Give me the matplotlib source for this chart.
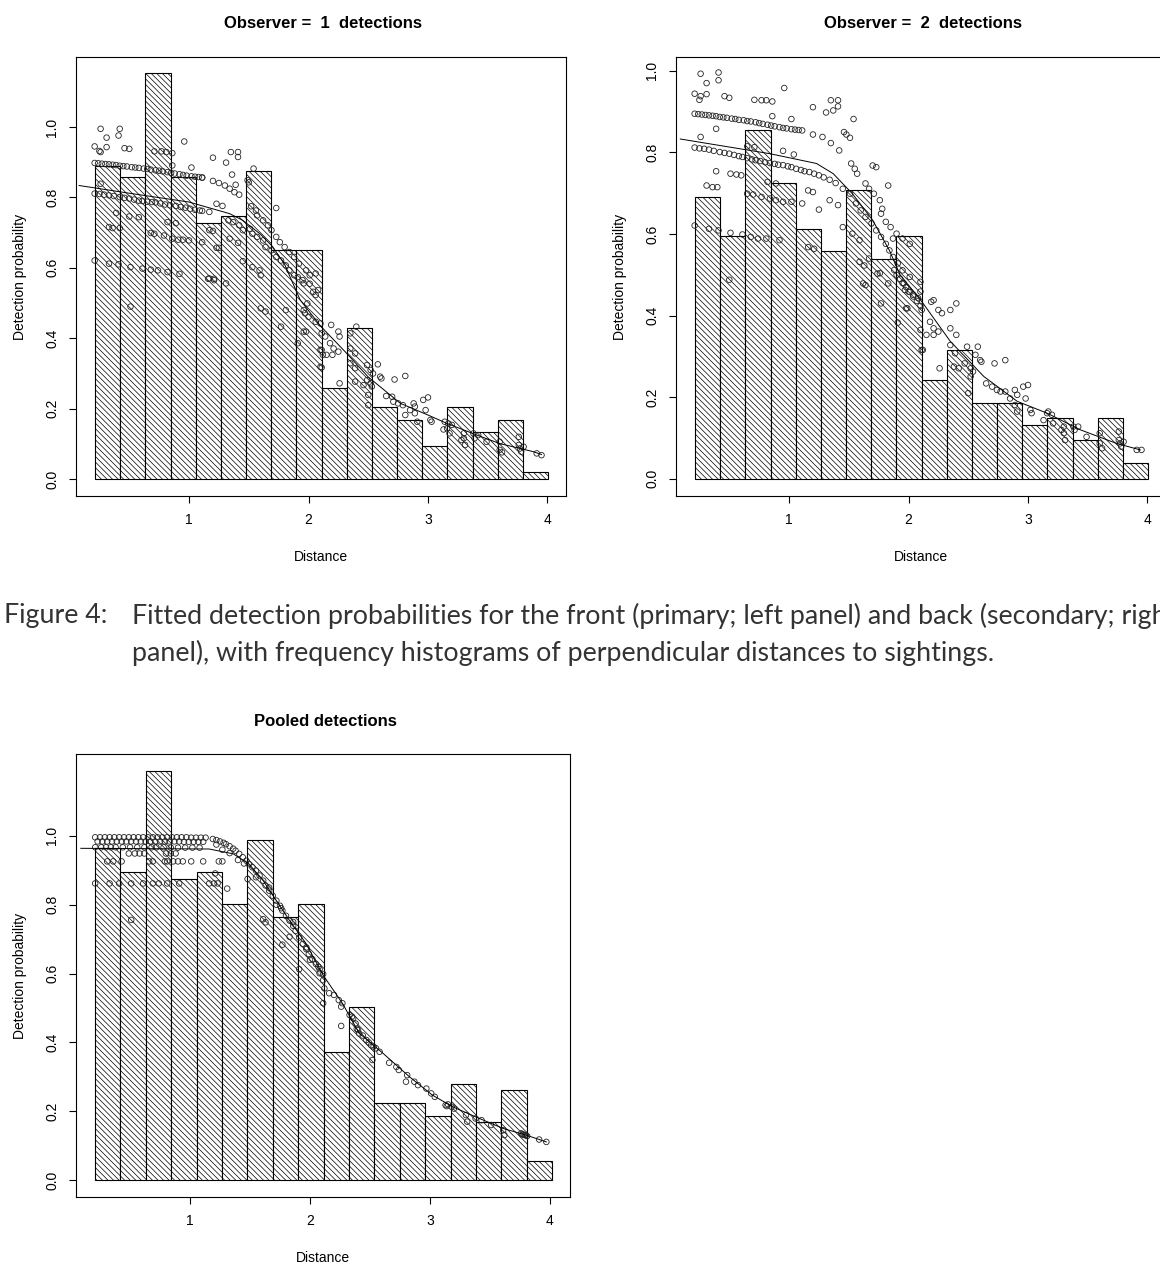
import matplotlib
matplotlib.use("Agg")
import matplotlib.pyplot as plt

plt.rcParams['font.family'] = ['Liberation Sans', 'DejaVu Sans']
plt.rcParams['hatch.linewidth'] = 0.5
plt.rcParams['hatch.color'] = 'black'

# histogram heights (18 bins)
obs1_hist = [0.889, 0.858, 1.154, 0.858, 0.727, 0.746, 0.874, 0.652, 0.652,
             0.260, 0.428, 0.205, 0.167, 0.095, 0.205, 0.133, 0.167, 0.019]
obs2_hist = [0.690, 0.595, 0.856, 0.726, 0.613, 0.559, 0.707, 0.540, 0.596,
             0.242, 0.315, 0.186, 0.186, 0.132, 0.149, 0.095, 0.149, 0.038]
pooled_hist = [0.965, 0.895, 1.190, 0.875, 0.894, 0.801, 0.988, 0.764, 0.801,
               0.372, 0.502, 0.224, 0.224, 0.186, 0.278, 0.168, 0.261, 0.055]
hist_start = [0.213, 0.213, 0.208]
hist_width = [0.2107, 0.2107, 0.2117]

# fitted detection function curves
line1_d = [0.08, 0.50, 1.00, 1.34, 1.45, 1.60, 1.70, 1.80, 1.93, 2.10, 2.32, 2.50, 2.77, 3.00, 3.16, 3.41, 3.60, 3.88, 3.95]
line1_p = [0.834, 0.812, 0.787, 0.754, 0.735, 0.695, 0.660, 0.610, 0.509, 0.435, 0.357, 0.290, 0.215, 0.182, 0.158, 0.125, 0.101, 0.078, 0.070]
line2_d = [0.09, 0.84, 1.23, 1.37, 1.53, 1.70, 1.84, 1.93, 2.11, 2.35, 2.63, 2.91, 3.16, 3.44, 3.74, 3.94]
line2_p = [0.833, 0.797, 0.773, 0.748, 0.699, 0.634, 0.560, 0.500, 0.435, 0.337, 0.251, 0.190, 0.161, 0.120, 0.087, 0.071]
line3_d = [0.09, 1.16, 1.36, 1.49, 1.61, 1.72, 1.83, 1.97, 2.11, 2.27, 2.41, 2.61, 2.83, 3.02, 3.19, 3.38, 3.61, 3.80, 3.97]
line3_p = [0.964, 0.962, 0.948, 0.919, 0.870, 0.812, 0.754, 0.686, 0.595, 0.514, 0.427, 0.368, 0.300, 0.247, 0.213, 0.184, 0.150, 0.131, 0.111]

# fitted probabilities, observer 1
obs1_d = [
    # upper band
    0.21, 0.24, 0.27, 0.30, 0.33, 0.36, 0.39, 0.42, 0.45, 0.48, 0.52, 0.55, 0.58, 0.62, 0.65,
    0.68, 0.72, 0.75, 0.78, 0.82, 0.85, 0.88, 0.92, 0.95, 0.98, 1.02, 1.05, 1.08, 1.11,
    1.20, 1.25, 1.30, 1.34, 1.38, 1.42, 1.49, 1.50, 1.52, 1.56, 1.57, 1.62, 1.66, 1.69, 1.73,
    1.73, 1.76, 1.80, 1.84, 1.88, 1.92, 1.98, 2.01, 2.06,
    # lower band
    0.21, 0.25, 0.29, 0.33, 0.37, 0.42, 0.46, 0.50, 0.54, 0.58, 0.61, 0.65, 0.69, 0.72, 0.76,
    0.80, 0.84, 0.89, 0.93, 0.97, 1.01, 1.05, 1.09, 1.11, 1.17,
    1.23, 1.28, 1.33, 1.37, 1.42, 1.45, 1.51, 1.53, 1.57, 1.62, 1.64, 1.69, 1.73, 1.77, 1.81,
    1.84, 1.88, 1.91, 1.95, 2.01,
    # scattered high
    0.26, 0.42, 0.31, 0.41, 0.21, 0.25, 0.31, 0.26, 0.46, 0.50, 0.71, 0.77, 0.81, 0.86, 0.96,
    0.86, 1.02, 1.20, 1.35, 1.41, 1.41, 1.31, 1.36, 1.39, 1.54, 1.11,
    # middle
    0.26, 0.39, 0.50, 0.58, 0.33, 0.36, 0.42, 0.68, 0.71, 0.79, 0.86, 0.91, 0.95, 0.82, 0.89,
    1.00, 1.11, 1.17, 1.20, 1.23, 1.25, 1.34, 1.41,
    0.21, 0.33, 0.41, 0.51, 0.61, 0.68, 0.74, 0.82, 0.92, 1.16, 1.21, 1.45, 1.53, 1.59, 1.60,
    0.51, 1.17, 1.21, 1.31, 1.60, 1.64, 1.77, 1.91, 1.98, 1.81, 2.10, 2.10, 2.12,
    # tail
    1.96, 2.04, 2.06, 2.08, 1.99, 1.96, 1.97, 2.00, 2.06, 2.10, 1.96, 2.11, 2.14, 2.19, 2.25,
    2.26, 2.18, 2.21, 2.25, 2.15, 2.20, 2.11, 2.11, 2.26, 2.35, 2.40, 2.35, 2.39, 2.35, 2.39,
    2.39, 2.46, 2.49, 2.52, 2.53, 2.49, 2.52, 2.58, 2.54, 2.60, 2.61, 2.50, 2.50, 2.72, 2.81,
    2.65, 2.70, 2.71, 2.75, 2.79, 2.88, 2.89, 2.85, 2.81, 2.89, 2.91, 2.96, 3.00, 2.98, 3.02,
    3.03, 3.14, 3.17, 3.20, 3.16, 3.13, 3.18, 3.30, 3.30, 3.31, 3.38, 3.39, 3.42, 3.28, 3.49,
    3.60, 3.60, 3.62, 3.76, 3.76, 3.77, 3.78, 3.80, 3.91, 3.95]
obs1_p = [
    0.898, 0.897, 0.896, 0.895, 0.894, 0.893, 0.892, 0.890, 0.889, 0.888, 0.886, 0.885, 0.884, 0.882, 0.881,
    0.879, 0.877, 0.876, 0.874, 0.872, 0.870, 0.868, 0.866, 0.864, 0.862, 0.860, 0.859, 0.858, 0.857,
    0.847, 0.841, 0.834, 0.825, 0.815, 0.808, 0.849, 0.843, 0.775, 0.763, 0.749, 0.735, 0.721, 0.707, 0.688,
    0.770, 0.673, 0.659, 0.645, 0.631, 0.612, 0.593, 0.579, 0.584,
    0.811, 0.810, 0.808, 0.806, 0.804, 0.801, 0.799, 0.797, 0.794, 0.791, 0.790, 0.788, 0.787, 0.786, 0.783,
    0.780, 0.778, 0.776, 0.773, 0.771, 0.768, 0.765, 0.763, 0.762, 0.759,
    0.782, 0.776, 0.735, 0.730, 0.721, 0.707, 0.711, 0.697, 0.688, 0.678, 0.659, 0.650, 0.631, 0.621, 0.607,
    0.593, 0.579, 0.574, 0.565, 0.555,
    0.995, 0.995, 0.970, 0.976, 0.945, 0.932, 0.943, 0.929, 0.940, 0.938, 0.931, 0.931, 0.929, 0.926, 0.959,
    0.891, 0.885, 0.913, 0.929, 0.929, 0.915, 0.899, 0.865, 0.836, 0.882, 0.856,
    0.839, 0.756, 0.746, 0.744, 0.716, 0.713, 0.713, 0.699, 0.697, 0.692, 0.683, 0.680, 0.680, 0.730, 0.727,
    0.678, 0.673, 0.707, 0.705, 0.657, 0.657, 0.683, 0.671,
    0.621, 0.612, 0.610, 0.602, 0.598, 0.595, 0.593, 0.588, 0.583, 0.569, 0.569, 0.619, 0.602, 0.593, 0.579,
    0.490, 0.570, 0.565, 0.556, 0.485, 0.476, 0.433, 0.386, 0.419, 0.480, 0.367, 0.319, 0.353,
    0.556, 0.532, 0.523, 0.537, 0.499, 0.480, 0.471, 0.461, 0.447, 0.442, 0.419, 0.414, 0.405, 0.438, 0.419,
    0.405, 0.386, 0.371, 0.362, 0.353, 0.353, 0.367, 0.317, 0.272, 0.414, 0.433, 0.371, 0.357, 0.329, 0.315,
    0.277, 0.267, 0.281, 0.272, 0.263, 0.324, 0.310, 0.326, 0.300, 0.291, 0.286, 0.239, 0.210, 0.283, 0.293,
    0.236, 0.234, 0.220, 0.215, 0.210, 0.215, 0.206, 0.196, 0.182, 0.187, 0.163, 0.225, 0.232, 0.196, 0.168,
    0.163, 0.163, 0.158, 0.154, 0.144, 0.141, 0.130, 0.130, 0.116, 0.097, 0.130, 0.116, 0.125, 0.111, 0.106,
    0.106, 0.083, 0.076, 0.120, 0.097, 0.087, 0.078, 0.092, 0.073, 0.068]

# fitted probabilities, observer 2
obs2_d = [
    0.26, 0.41, 0.31, 0.41, 0.21, 0.25, 0.31, 0.26, 0.46, 0.50, 0.71, 0.77, 0.81, 0.86, 0.96,
    1.20, 1.35, 1.41, 1.41, 1.31, 1.37, 1.54, 0.86, 1.02, 0.39, 0.26,
    # upper band
    0.21, 0.24, 0.27, 0.30, 0.33, 0.36, 0.39, 0.42, 0.45, 0.48, 0.52, 0.55, 0.58, 0.62, 0.65,
    0.68, 0.72, 0.75, 0.78, 0.82, 0.85, 0.88, 0.92, 0.95, 0.98, 1.02, 1.05, 1.08, 1.11,
    1.20, 1.28, 1.35, 1.42, 1.46, 1.48, 1.51, 1.52, 1.55, 1.57, 1.70, 1.73, 1.64, 1.67, 1.71,
    1.76, 1.78, 1.83, 1.77, 1.81, 1.85, 1.90, 1.87, 1.95, 2.01,
    # lower band
    0.21, 0.25, 0.29, 0.33, 0.37, 0.42, 0.46, 0.50, 0.54, 0.58, 0.61, 0.65, 0.69, 0.72, 0.76,
    0.80, 0.84, 0.88, 0.91, 0.95, 0.99, 1.02, 1.06, 1.10, 1.13, 1.17, 1.21, 1.25, 1.29, 1.34,
    1.39, 1.45, 1.51, 1.56, 1.60, 1.64, 1.69, 1.73, 1.77, 1.81, 1.84, 1.87, 1.91, 1.95, 2.01,
    # middle
    0.39, 0.51, 0.56, 0.60, 0.31, 0.36, 0.40, 0.65, 0.71, 0.65, 0.70, 0.77, 0.84, 0.89, 0.95,
    1.02, 0.82, 0.89, 0.95, 1.04, 1.11, 1.16, 1.20, 1.25, 1.34, 1.41,
    0.21, 0.33, 0.41, 0.51, 0.61, 0.68, 0.74, 0.81, 0.92, 1.16, 1.21, 1.45, 1.53, 1.59, 0.50,
    1.59, 1.63, 1.67, 1.74,
    1.76, 1.83, 1.77, 1.91, 1.98, 2.12, 2.10, 1.62, 1.64,
    1.88, 1.90, 1.93, 1.95, 1.98, 2.01, 2.04, 2.07, 2.10,
    # tail
    1.96, 1.97, 2.00, 2.04, 2.08, 2.10, 2.10, 1.99, 2.11, 2.19, 2.21, 2.25, 2.28, 2.35, 2.40,
    2.18, 2.21, 2.25, 2.15, 2.21, 2.11, 2.26, 2.35, 2.40, 2.35, 2.39, 2.38, 2.42, 2.47, 2.52,
    2.54, 2.49, 2.56, 2.58, 2.60, 2.61, 2.52, 2.50, 2.72, 2.81, 2.65, 2.70, 2.74, 2.77, 2.81,
    2.89, 2.91, 2.85, 2.89, 2.91, 2.96, 3.00, 2.98, 3.02, 3.03, 3.13, 3.17, 3.20, 3.16, 3.21,
    3.30, 3.30, 3.31, 3.38, 3.39, 3.42, 3.28, 3.49, 3.60, 3.60, 3.62, 3.76, 3.76, 3.77, 3.78,
    3.80, 3.91, 3.95]
obs2_p = [
    0.993, 0.996, 0.970, 0.977, 0.944, 0.929, 0.943, 0.938, 0.938, 0.934, 0.929, 0.928, 0.928, 0.925, 0.958,
    0.911, 0.928, 0.928, 0.913, 0.898, 0.903, 0.882, 0.889, 0.882, 0.858, 0.838,
    0.895, 0.894, 0.893, 0.892, 0.891, 0.890, 0.889, 0.887, 0.886, 0.885, 0.883, 0.882, 0.880, 0.879, 0.877,
    0.876, 0.874, 0.872, 0.870, 0.868, 0.866, 0.864, 0.862, 0.860, 0.859, 0.857, 0.856, 0.855, 0.854,
    0.844, 0.838, 0.823, 0.805, 0.850, 0.844, 0.836, 0.773, 0.760, 0.748, 0.768, 0.764, 0.724, 0.711, 0.699,
    0.683, 0.662, 0.719, 0.650, 0.630, 0.617, 0.601, 0.589, 0.589, 0.576,
    0.812, 0.810, 0.809, 0.807, 0.804, 0.801, 0.799, 0.797, 0.794, 0.791, 0.789, 0.786, 0.783, 0.781, 0.779,
    0.776, 0.774, 0.772, 0.770, 0.769, 0.766, 0.764, 0.760, 0.757, 0.754, 0.752, 0.748, 0.744, 0.739, 0.733,
    0.725, 0.711, 0.699, 0.675, 0.658, 0.642, 0.626, 0.609, 0.593, 0.576, 0.560, 0.544, 0.528, 0.511, 0.495,
    0.754, 0.748, 0.746, 0.744, 0.719, 0.715, 0.715, 0.815, 0.813, 0.699, 0.697, 0.691, 0.687, 0.683, 0.679,
    0.679, 0.728, 0.724, 0.804, 0.795, 0.675, 0.707, 0.703, 0.660, 0.683, 0.671,
    0.621, 0.613, 0.609, 0.603, 0.599, 0.593, 0.589, 0.589, 0.585, 0.568, 0.564, 0.617, 0.601, 0.585, 0.488,
    0.532, 0.523, 0.540, 0.503,
    0.504, 0.479, 0.430, 0.383, 0.418, 0.316, 0.365, 0.479, 0.475,
    0.512, 0.500, 0.490, 0.480, 0.470, 0.458, 0.447, 0.436, 0.424,
    0.479, 0.463, 0.459, 0.451, 0.443, 0.483, 0.459, 0.418, 0.414, 0.434, 0.438, 0.414, 0.406, 0.414, 0.430,
    0.385, 0.369, 0.361, 0.353, 0.353, 0.316, 0.271, 0.369, 0.353, 0.328, 0.308, 0.275, 0.271, 0.283, 0.271,
    0.263, 0.324, 0.304, 0.324, 0.291, 0.287, 0.251, 0.210, 0.283, 0.291, 0.234, 0.226, 0.218, 0.214, 0.214,
    0.218, 0.206, 0.197, 0.181, 0.165, 0.226, 0.230, 0.197, 0.169, 0.161, 0.144, 0.165, 0.157, 0.161, 0.136,
    0.128, 0.112, 0.095, 0.128, 0.120, 0.128, 0.120, 0.103, 0.112, 0.087, 0.075, 0.116, 0.095, 0.087, 0.079,
    0.091, 0.071, 0.071]

# fitted probabilities, pooled
pooled_d = [
    0.21, 0.25, 0.29, 0.33, 0.37, 0.41, 0.45, 0.49, 0.53, 0.57, 0.61, 0.65, 0.69, 0.73, 0.77,
    0.81, 0.85, 0.89, 0.93, 0.97, 1.01, 1.05, 1.09, 1.13,
    0.23, 0.27, 0.31, 0.35, 0.39, 0.43, 0.47, 0.51, 0.55, 0.59, 0.63, 0.67, 0.71, 0.75, 0.79,
    0.83, 0.87, 0.91, 0.95, 0.99, 1.03, 1.07, 1.11,
    0.21, 0.26, 0.30, 0.34, 0.38, 0.44, 0.50, 0.56, 0.62, 0.68, 0.72, 0.78, 0.84, 0.90, 0.96,
    1.02, 1.08,
    0.49, 0.54, 0.58, 0.62, 0.80, 0.84, 0.88,
    0.31, 0.36, 0.43, 0.66, 0.69, 0.79, 0.81, 0.86, 0.90, 0.94, 1.01, 1.11, 1.24, 1.27,
    0.21, 0.33, 0.41, 0.51, 0.61, 0.69, 0.74, 0.81, 0.91, 1.16, 1.20, 1.23, 1.31, 1.21, 0.51,
    # curve
    1.19, 1.22, 1.25, 1.28, 1.30, 1.33, 1.36, 1.38, 1.41, 1.44, 1.47, 1.49, 1.52, 1.55, 1.58,
    1.61, 1.63, 1.66, 1.69, 1.72, 1.75, 1.77, 1.80, 1.83, 1.86, 1.88, 1.91, 1.94, 1.97, 1.99,
    2.02, 2.05, 2.08, 2.11,
    1.22, 1.27, 1.33, 1.40, 1.45, 1.48, 1.55, 1.61, 1.63, 1.66, 1.72, 1.77, 1.83, 1.97, 1.91,
    1.76, 1.86, 2.00, 2.07,
    # tail
    2.08, 2.11, 2.12, 2.11, 2.16, 2.20, 2.24, 2.26, 2.27, 2.36, 2.38, 2.40, 2.41, 2.26, 2.47,
    2.51, 2.55, 2.58, 2.52, 2.66, 2.72, 2.74, 2.81, 2.80, 2.87, 2.90, 2.97, 3.01, 3.04, 3.13,
    3.18, 3.20, 3.30, 3.31, 3.38, 3.43, 3.51, 3.61, 3.62, 3.76, 3.79, 3.81, 3.91, 3.97,
    2.33, 2.35, 2.39, 2.44, 2.49, 2.53, 3.14, 3.15, 3.77, 3.78, 3.80]
pooled_p = [
    0.996, 0.996, 0.996, 0.996, 0.996, 0.996, 0.996, 0.996, 0.996, 0.996, 0.996, 0.996, 0.996, 0.996, 0.996,
    0.996, 0.996, 0.996, 0.996, 0.996, 0.995, 0.995, 0.995, 0.995,
    0.984, 0.984, 0.984, 0.984, 0.984, 0.984, 0.984, 0.984, 0.984, 0.984, 0.984, 0.984, 0.984, 0.984, 0.984,
    0.984, 0.984, 0.984, 0.983, 0.983, 0.983, 0.983, 0.983,
    0.967, 0.967, 0.967, 0.967, 0.967, 0.967, 0.967, 0.967, 0.967, 0.967, 0.967, 0.967, 0.966, 0.966, 0.966,
    0.966, 0.966,
    0.949, 0.949, 0.949, 0.949, 0.949, 0.949, 0.949,
    0.926, 0.926, 0.926, 0.926, 0.926, 0.926, 0.926, 0.926, 0.926, 0.926, 0.926, 0.926, 0.926, 0.926,
    0.862, 0.862, 0.862, 0.862, 0.862, 0.862, 0.862, 0.862, 0.862, 0.862, 0.862, 0.862, 0.847, 0.891, 0.756,
    0.991, 0.988, 0.984, 0.980, 0.976, 0.970, 0.963, 0.957, 0.948, 0.938, 0.928, 0.918, 0.909, 0.899, 0.885,
    0.870, 0.856, 0.841, 0.826, 0.812, 0.797, 0.783, 0.768, 0.754, 0.739, 0.724, 0.705, 0.686, 0.671, 0.657,
    0.642, 0.628, 0.613, 0.599,
    0.975, 0.960, 0.950, 0.930, 0.920, 0.875, 0.880, 0.758, 0.749, 0.850, 0.800, 0.684, 0.707, 0.676, 0.613,
    0.790, 0.750, 0.640, 0.620,
    0.601, 0.581, 0.557, 0.514, 0.543, 0.538, 0.523, 0.504, 0.514, 0.470, 0.455, 0.436, 0.426, 0.448, 0.407,
    0.392, 0.383, 0.373, 0.349, 0.341, 0.329, 0.320, 0.305, 0.286, 0.286, 0.276, 0.266, 0.252, 0.242, 0.218,
    0.213, 0.208, 0.189, 0.170, 0.179, 0.174, 0.160, 0.145, 0.131, 0.136, 0.131, 0.128, 0.118, 0.111,
    0.480, 0.475, 0.440, 0.420, 0.400, 0.388, 0.215, 0.220, 0.133, 0.132, 0.130]

W, H = 1160, 1264
fig = plt.figure(figsize=(W / 100, H / 100), dpi=100)


def panel(box, hist, start, width, d, p, ld, lp, xlim, ylim):
    l, t, r, b = box
    ax = fig.add_axes([l / W, 1 - b / H, (r - l) / W, (b - t) / H])
    lefts = [start + i * width for i in range(len(hist))]
    ax.bar(lefts, hist, width=width, align='edge', facecolor='white',
           edgecolor='black', linewidth=0.8, hatch='\\' * 6)
    ax.scatter(d, p, s=16, facecolors='none', edgecolors='#222222', linewidths=0.6, zorder=3)
    ax.plot(ld, lp, color='black', linewidth=0.7, zorder=4)
    ax.set_xlim(*xlim)
    ax.set_ylim(*ylim)
    ax.set_xticks([1, 2, 3, 4])
    ax.set_yticks([0.0, 0.2, 0.4, 0.6, 0.8, 1.0])
    ax.set_yticklabels(['0.0', '0.2', '0.4', '0.6', '0.8', '1.0'], rotation=90, va='center')
    ax.tick_params(length=5, width=0.8, labelsize=10, pad=7)
    for s in ax.spines.values():
        s.set_linewidth(0.8)
    ax.set_xlabel('Distance', fontsize=10, labelpad=17)
    ax.set_ylabel('Detection probability', fontsize=10, labelpad=13)
    return ax


panel((76, 57, 566, 496), obs1_hist, hist_start[0], hist_width[0], obs1_d, obs1_p,
      line1_d, line1_p, (0.054, 4.155), (-0.048, 1.199))
panel((676, 57, 1166, 496), obs2_hist, hist_start[1], hist_width[1], obs2_d, obs2_p,
      line2_d, line2_p, (0.054, 4.155), (-0.042, 1.034))
panel((76, 754, 570, 1197), pooled_hist, hist_start[2], hist_width[2], pooled_d, pooled_p,
      line3_d, line3_p, (0.05, 4.167), (-0.049, 1.238))

fig.text(323 / W, 1 - 23 / H, 'Observer =  1  detections', ha='center', va='center',
         fontsize=12, fontweight='bold')
fig.text(923 / W, 1 - 23 / H, 'Observer =  2  detections', ha='center', va='center',
         fontsize=12, fontweight='bold')
fig.text(325 / W, 1 - 721 / H, 'Pooled detections', ha='center', va='center',
         fontsize=12, fontweight='bold')

cap_font = ['Lato', 'DejaVu Sans']
cap_size = 19.3
fig.text(4 / W, 1 - 616 / H, 'Figure 4:', ha='left', va='center', fontsize=cap_size,
         family=cap_font, color='#333333')
fig.text(132 / W, 1 - 616 / H,
         'Fitted detection probabilities for the front (primary; left panel) and back (secondary; right',
         ha='left', va='center', fontsize=cap_size, family=cap_font, color='#333333')
fig.text(132 / W, 1 - 653 / H,
         'panel), with frequency histograms of perpendicular distances to sightings.',
         ha='left', va='center', fontsize=cap_size, family=cap_font, color='#333333')

fig.savefig('out.png', dpi=100)
